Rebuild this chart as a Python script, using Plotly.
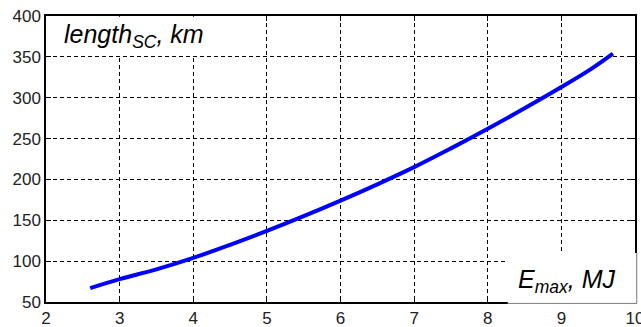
import plotly.graph_objects as go

# Data
energy_mj = [2.6, 3.0, 3.5, 4.0, 4.5, 5.0, 5.5, 6.0, 6.5, 7.0, 7.5, 8.0, 8.5, 9.0, 9.4, 9.7]
length_km = [67, 78, 90, 104, 120, 137, 155, 174, 194, 215, 238, 262, 287, 313, 335, 354]

x_ticks = [2, 3, 4, 5, 6, 7, 8, 9, 10]
y_ticks = [50, 100, 150, 200, 250, 300, 350, 400]

fig = go.Figure()
fig.add_trace(go.Scatter(x=energy_mj, y=length_km, mode="lines",
                         line=dict(color="#0000ff", width=4, shape="spline", smoothing=1.0),
                         showlegend=False))

axis_common = dict(
    showgrid=True, gridcolor="#000000", gridwidth=1.3, griddash="4px,3px",
    showline=True, linecolor="#000000", linewidth=1.5,
    ticks="inside", ticklen=5, tickcolor="#000000", tickwidth=1,
    mirror="ticks", zeroline=False, automargin=False, ticklabeloverflow="allow",
    tickfont=dict(family="Liberation Sans, Arial", size=17, color="#222222"),
)

fig.update_xaxes(range=[2, 10], tickvals=x_ticks, ticktext=[str(v) for v in x_ticks], **axis_common)
fig.update_yaxes(range=[50, 400], tickvals=y_ticks, ticktext=[str(v) for v in y_ticks], **axis_common)

# white label boxes
fig.add_shape(type="rect", xref="paper", yref="paper", x0=0.003, x1=0.299, y0=0.86, y1=0.997,
              fillcolor="white", line=dict(width=0), layer="above")
fig.add_shape(type="rect", xref="paper", yref="paper", x0=0.784, x1=1.003, y0=-0.005, y1=0.171,
              fillcolor="white", line=dict(width=0), layer="above")
fig.add_shape(type="line", xref="paper", yref="paper", x0=0.784, x1=1.003, y0=-0.005, y1=-0.005,
              line=dict(color="#888888", width=1), layer="above")
fig.add_shape(type="line", xref="paper", yref="paper", x0=1.003, x1=1.003, y0=-0.005, y1=0.171,
              line=dict(color="#888888", width=1), layer="above")

label_font = dict(family="Liberation Sans, Arial", size=25, color="#000000")
fig.add_annotation(xref="paper", yref="paper", x=0.027, y=0.93, xanchor="left", yanchor="middle",
                   text="<i>length<sub>SC</sub>, km</i>", showarrow=False, font=label_font)
fig.add_annotation(xref="paper", yref="paper", x=0.798, y=0.075, xanchor="left", yanchor="middle",
                   text="<i>E<sub>max</sub>, MJ</i>", showarrow=False, font=label_font)

fig.update_layout(
    width=641, height=327,
    margin=dict(l=46, r=6, t=16, b=25),
    paper_bgcolor="white", plot_bgcolor="white",
)

fig.write_html("out.html")
